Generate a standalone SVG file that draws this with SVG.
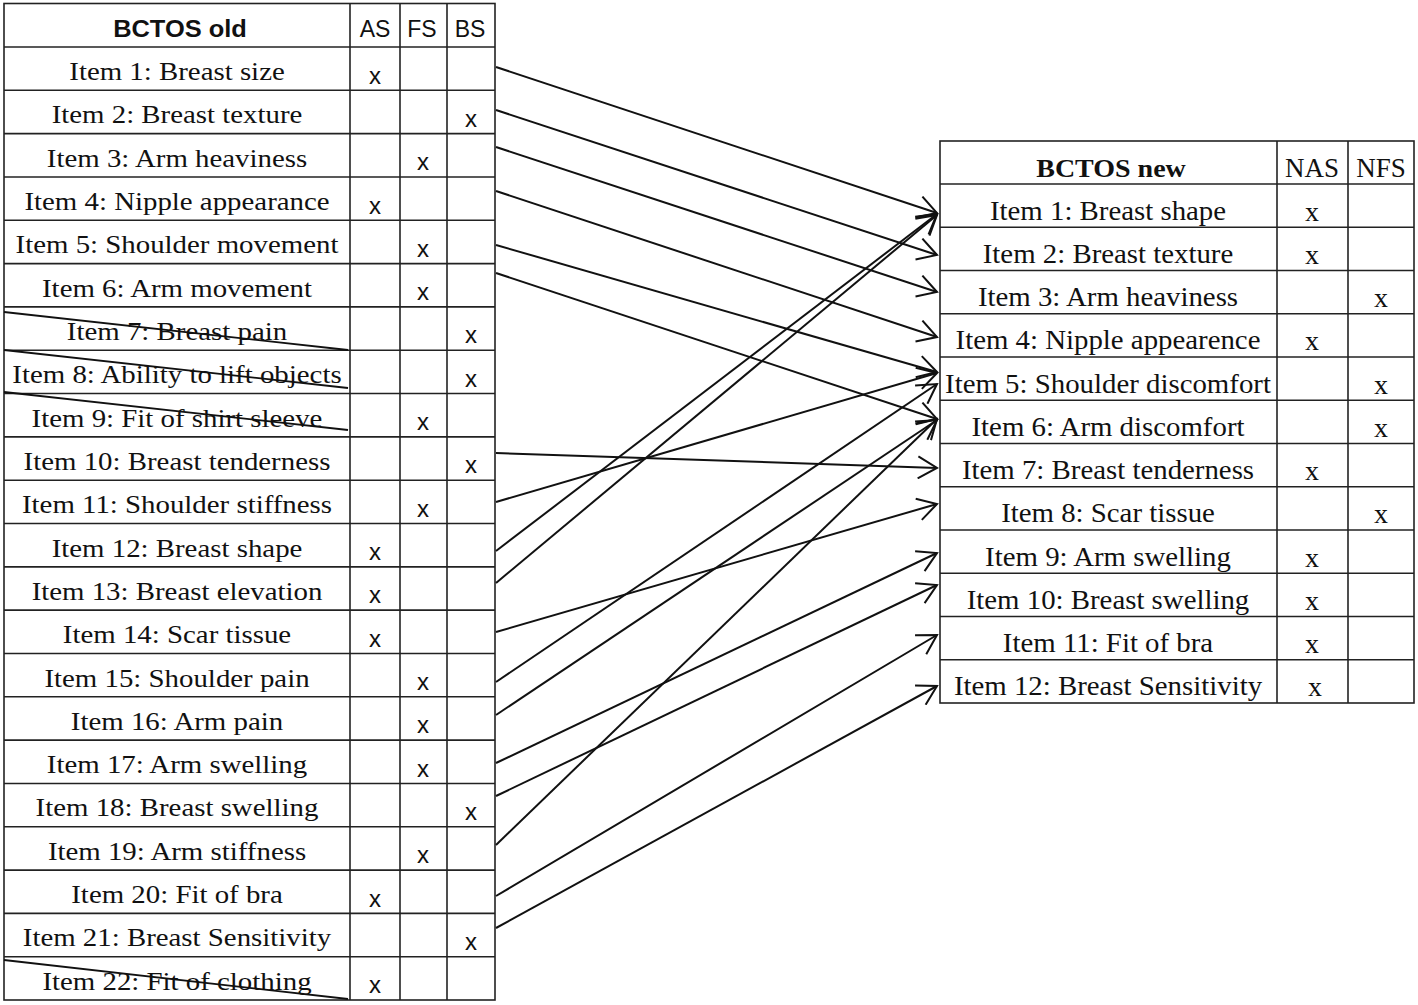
<svg xmlns="http://www.w3.org/2000/svg" width="1418" height="1005" viewBox="0 0 1418 1005">
<style>
.grid{stroke:#222;stroke-width:1.6;fill:none}
.li{font-family:"Liberation Serif","Times New Roman",serif;font-size:26px;text-anchor:middle;fill:#111}
.ri{font-family:"Liberation Serif","Times New Roman",serif;font-size:28px;text-anchor:middle;fill:#111}
.lx{font-family:"Liberation Sans",Arial,sans-serif;font-size:24px;text-anchor:middle;fill:#111}
.rx{font-family:"Liberation Serif","Times New Roman",serif;font-size:28px;text-anchor:middle;fill:#111}
.lh{font-family:"Liberation Sans",Arial,sans-serif;font-size:24px;font-weight:bold;text-anchor:middle;fill:#111}
.lhc{font-family:"Liberation Sans",Arial,sans-serif;font-size:23px;text-anchor:middle;fill:#111}
.rh{font-family:"Liberation Serif","Times New Roman",serif;font-size:25px;font-weight:bold;text-anchor:middle;fill:#111}
.rhc{font-family:"Liberation Serif","Times New Roman",serif;font-size:27px;text-anchor:middle;fill:#111}
.con{stroke:#111;stroke-width:2;fill:none;marker-end:url(#ah)}
.strike{stroke:#111;stroke-width:1.8}
</style>
<defs>
<marker id="ah" markerUnits="userSpaceOnUse" markerWidth="22" markerHeight="24" viewBox="0 0 22 24" refX="20" refY="12" orient="auto">
<path d="M1,1 L20,12 L1,23" fill="none" stroke="#111" stroke-width="2"/>
</marker>
</defs>
<rect width="1418" height="1005" fill="#fff"/>

<g id="old-table">
<rect class="grid" x="4" y="3.5" width="491" height="996.5"/>
<line class="grid" x1="350" y1="3.5" x2="350" y2="1000"/>
<line class="grid" x1="400" y1="3.5" x2="400" y2="1000"/>
<line class="grid" x1="447" y1="3.5" x2="447" y2="1000"/>
<line class="grid" x1="4" y1="47" x2="495" y2="47"/>
<line class="grid" x1="4" y1="90.32" x2="495" y2="90.32"/>
<line class="grid" x1="4" y1="133.64" x2="495" y2="133.64"/>
<line class="grid" x1="4" y1="176.96" x2="495" y2="176.96"/>
<line class="grid" x1="4" y1="220.28" x2="495" y2="220.28"/>
<line class="grid" x1="4" y1="263.6" x2="495" y2="263.6"/>
<line class="grid" x1="4" y1="306.92" x2="495" y2="306.92"/>
<line class="grid" x1="4" y1="350.24" x2="495" y2="350.24"/>
<line class="grid" x1="4" y1="393.56" x2="495" y2="393.56"/>
<line class="grid" x1="4" y1="436.88" x2="495" y2="436.88"/>
<line class="grid" x1="4" y1="480.2" x2="495" y2="480.2"/>
<line class="grid" x1="4" y1="523.52" x2="495" y2="523.52"/>
<line class="grid" x1="4" y1="566.84" x2="495" y2="566.84"/>
<line class="grid" x1="4" y1="610.16" x2="495" y2="610.16"/>
<line class="grid" x1="4" y1="653.48" x2="495" y2="653.48"/>
<line class="grid" x1="4" y1="696.8" x2="495" y2="696.8"/>
<line class="grid" x1="4" y1="740.12" x2="495" y2="740.12"/>
<line class="grid" x1="4" y1="783.44" x2="495" y2="783.44"/>
<line class="grid" x1="4" y1="826.76" x2="495" y2="826.76"/>
<line class="grid" x1="4" y1="870.08" x2="495" y2="870.08"/>
<line class="grid" x1="4" y1="913.4" x2="495" y2="913.4"/>
<line class="grid" x1="4" y1="956.72" x2="495" y2="956.72"/>

<text class="lh" transform="translate(180,36.7) scale(1.06,1)">BCTOS old</text>
<text class="lhc" x="375" y="36.7">AS</text>
<text class="lhc" x="422" y="36.7">FS</text>
<text class="lhc" x="470" y="36.7">BS</text>

<g id="old-1"><text class="li" transform="translate(177,80) scale(1.11,1)">Item 1: Breast size</text><text class="lx" x="375" y="83.5">x</text></g>
<g id="old-2"><text class="li" transform="translate(177,123.3) scale(1.11,1)">Item 2: Breast texture</text><text class="lx" x="471" y="126.8">x</text></g>
<g id="old-3"><text class="li" transform="translate(177,166.6) scale(1.11,1)">Item 3: Arm heaviness</text><text class="lx" x="423" y="170.1">x</text></g>
<g id="old-4"><text class="li" transform="translate(177,210) scale(1.11,1)">Item 4: Nipple appearance</text><text class="lx" x="375" y="213.5">x</text></g>
<g id="old-5"><text class="li" transform="translate(177,253.3) scale(1.11,1)">Item 5: Shoulder movement</text><text class="lx" x="423" y="256.8">x</text></g>
<g id="old-6"><text class="li" transform="translate(177,296.6) scale(1.11,1)">Item 6: Arm movement</text><text class="lx" x="423" y="300.1">x</text></g>
<g id="old-7"><text class="li" transform="translate(177,339.9) scale(1.11,1)">Item 7: Breast pain</text><text class="lx" x="471" y="343.4">x</text><line class="strike" x1="4" y1="312" x2="348" y2="350"/></g>
<g id="old-8"><text class="li" transform="translate(177,383.2) scale(1.11,1)">Item 8: Ability to lift objects</text><text class="lx" x="471" y="386.7">x</text><line class="strike" x1="4" y1="350" x2="348" y2="388"/></g>
<g id="old-9"><text class="li" transform="translate(177,426.6) scale(1.11,1)">Item 9: Fit of shirt sleeve</text><text class="lx" x="423" y="430.1">x</text><line class="strike" x1="4" y1="392" x2="348" y2="430"/></g>
<g id="old-10"><text class="li" transform="translate(177,469.9) scale(1.11,1)">Item 10: Breast tenderness</text><text class="lx" x="471" y="473.4">x</text></g>
<g id="old-11"><text class="li" transform="translate(177,513.2) scale(1.11,1)">Item 11: Shoulder stiffness</text><text class="lx" x="423" y="516.7">x</text></g>
<g id="old-12"><text class="li" transform="translate(177,556.5) scale(1.11,1)">Item 12: Breast shape</text><text class="lx" x="375" y="560">x</text></g>
<g id="old-13"><text class="li" transform="translate(177,599.8) scale(1.11,1)">Item 13: Breast elevation</text><text class="lx" x="375" y="603.3">x</text></g>
<g id="old-14"><text class="li" transform="translate(177,643.2) scale(1.11,1)">Item 14: Scar tissue</text><text class="lx" x="375" y="646.7">x</text></g>
<g id="old-15"><text class="li" transform="translate(177,686.5) scale(1.11,1)">Item 15: Shoulder pain</text><text class="lx" x="423" y="690">x</text></g>
<g id="old-16"><text class="li" transform="translate(177,729.8) scale(1.11,1)">Item 16: Arm pain</text><text class="lx" x="423" y="733.3">x</text></g>
<g id="old-17"><text class="li" transform="translate(177,773.1) scale(1.11,1)">Item 17: Arm swelling</text><text class="lx" x="423" y="776.6">x</text></g>
<g id="old-18"><text class="li" transform="translate(177,816.4) scale(1.11,1)">Item 18: Breast swelling</text><text class="lx" x="471" y="819.9">x</text></g>
<g id="old-19"><text class="li" transform="translate(177,859.8) scale(1.11,1)">Item 19: Arm stiffness</text><text class="lx" x="423" y="863.3">x</text></g>
<g id="old-20"><text class="li" transform="translate(177,903.1) scale(1.11,1)">Item 20: Fit of bra</text><text class="lx" x="375" y="906.6">x</text></g>
<g id="old-21"><text class="li" transform="translate(177,946.4) scale(1.11,1)">Item 21: Breast Sensitivity</text><text class="lx" x="471" y="949.9">x</text></g>
<g id="old-22"><text class="li" transform="translate(177,989.7) scale(1.11,1)">Item 22: Fit of clothing</text><text class="lx" x="375" y="993.2">x</text><line class="strike" x1="4" y1="960" x2="348" y2="999"/></g>
</g>

<g id="new-table">
<rect class="grid" x="940" y="141" width="474" height="562"/>
<line class="grid" x1="1277" y1="141" x2="1277" y2="703"/>
<line class="grid" x1="1348" y1="141" x2="1348" y2="703"/>
<line class="grid" x1="940" y1="184" x2="1414" y2="184"/>
<line class="grid" x1="940" y1="227.25" x2="1414" y2="227.25"/>
<line class="grid" x1="940" y1="270.5" x2="1414" y2="270.5"/>
<line class="grid" x1="940" y1="313.75" x2="1414" y2="313.75"/>
<line class="grid" x1="940" y1="357" x2="1414" y2="357"/>
<line class="grid" x1="940" y1="400.25" x2="1414" y2="400.25"/>
<line class="grid" x1="940" y1="443.5" x2="1414" y2="443.5"/>
<line class="grid" x1="940" y1="486.75" x2="1414" y2="486.75"/>
<line class="grid" x1="940" y1="530" x2="1414" y2="530"/>
<line class="grid" x1="940" y1="573.25" x2="1414" y2="573.25"/>
<line class="grid" x1="940" y1="616.5" x2="1414" y2="616.5"/>
<line class="grid" x1="940" y1="659.75" x2="1414" y2="659.75"/>

<text class="rh" transform="translate(1111,176.5) scale(1.12,1)">BCTOS new</text>
<text class="rhc" x="1312" y="176.5">NAS</text>
<text class="rhc" x="1381" y="176.5">NFS</text>

<g id="new-1"><text class="ri" transform="translate(1108,219.5) scale(1.03,1)">Item 1: Breast shape</text><text class="rx" x="1312" y="220.5">x</text></g>
<g id="new-2"><text class="ri" transform="translate(1108,262.75) scale(1.03,1)">Item 2: Breast texture</text><text class="rx" x="1312" y="263.75">x</text></g>
<g id="new-3"><text class="ri" transform="translate(1108,306) scale(1.03,1)">Item 3: Arm heaviness</text><text class="rx" x="1381" y="307">x</text></g>
<g id="new-4"><text class="ri" transform="translate(1108,349.25) scale(1.03,1)">Item 4: Nipple appearence</text><text class="rx" x="1312" y="350.25">x</text></g>
<g id="new-5"><text class="ri" transform="translate(1108,392.5) scale(1.03,1)">Item 5: Shoulder discomfort</text><text class="rx" x="1381" y="393.5">x</text></g>
<g id="new-6"><text class="ri" transform="translate(1108,435.75) scale(1.03,1)">Item 6: Arm discomfort</text><text class="rx" x="1381" y="436.75">x</text></g>
<g id="new-7"><text class="ri" transform="translate(1108,479) scale(1.03,1)">Item 7: Breast tenderness</text><text class="rx" x="1312" y="480">x</text></g>
<g id="new-8"><text class="ri" transform="translate(1108,522.25) scale(1.03,1)">Item 8: Scar tissue</text><text class="rx" x="1381" y="523.25">x</text></g>
<g id="new-9"><text class="ri" transform="translate(1108,565.5) scale(1.03,1)">Item 9: Arm swelling</text><text class="rx" x="1312" y="566.5">x</text></g>
<g id="new-10"><text class="ri" transform="translate(1108,608.75) scale(1.03,1)">Item 10: Breast swelling</text><text class="rx" x="1312" y="609.75">x</text></g>
<g id="new-11"><text class="ri" transform="translate(1108,652) scale(1.03,1)">Item 11: Fit of bra</text><text class="rx" x="1312" y="653">x</text></g>
<g id="new-12"><text class="ri" transform="translate(1108,695.25) scale(1.03,1)">Item 12: Breast Sensitivity</text><text class="rx" x="1315" y="696.25">x</text></g>
</g>

<g id="connectors">
<line class="con" x1="496" y1="67" x2="937" y2="213"/>
<line class="con" x1="496" y1="110" x2="937" y2="255"/>
<line class="con" x1="496" y1="147" x2="937" y2="292"/>
<line class="con" x1="496" y1="191" x2="937" y2="337"/>
<line class="con" x1="496" y1="245" x2="937" y2="372"/>
<line class="con" x1="496" y1="273" x2="937" y2="419"/>
<line class="con" x1="496" y1="453" x2="937" y2="468"/>
<line class="con" x1="496" y1="502" x2="937" y2="373"/>
<line class="con" x1="496" y1="551" x2="937" y2="214"/>
<line class="con" x1="496" y1="583" x2="937" y2="215"/>
<line class="con" x1="496" y1="632" x2="937" y2="504"/>
<line class="con" x1="496" y1="682" x2="937" y2="384"/>
<line class="con" x1="496" y1="715" x2="937" y2="420"/>
<line class="con" x1="496" y1="763" x2="937" y2="553"/>
<line class="con" x1="496" y1="796" x2="937" y2="585"/>
<line class="con" x1="496" y1="845" x2="937" y2="419"/>
<line class="con" x1="496" y1="896" x2="937" y2="635"/>
<line class="con" x1="496" y1="928" x2="937" y2="686"/>
</g>
</svg>
